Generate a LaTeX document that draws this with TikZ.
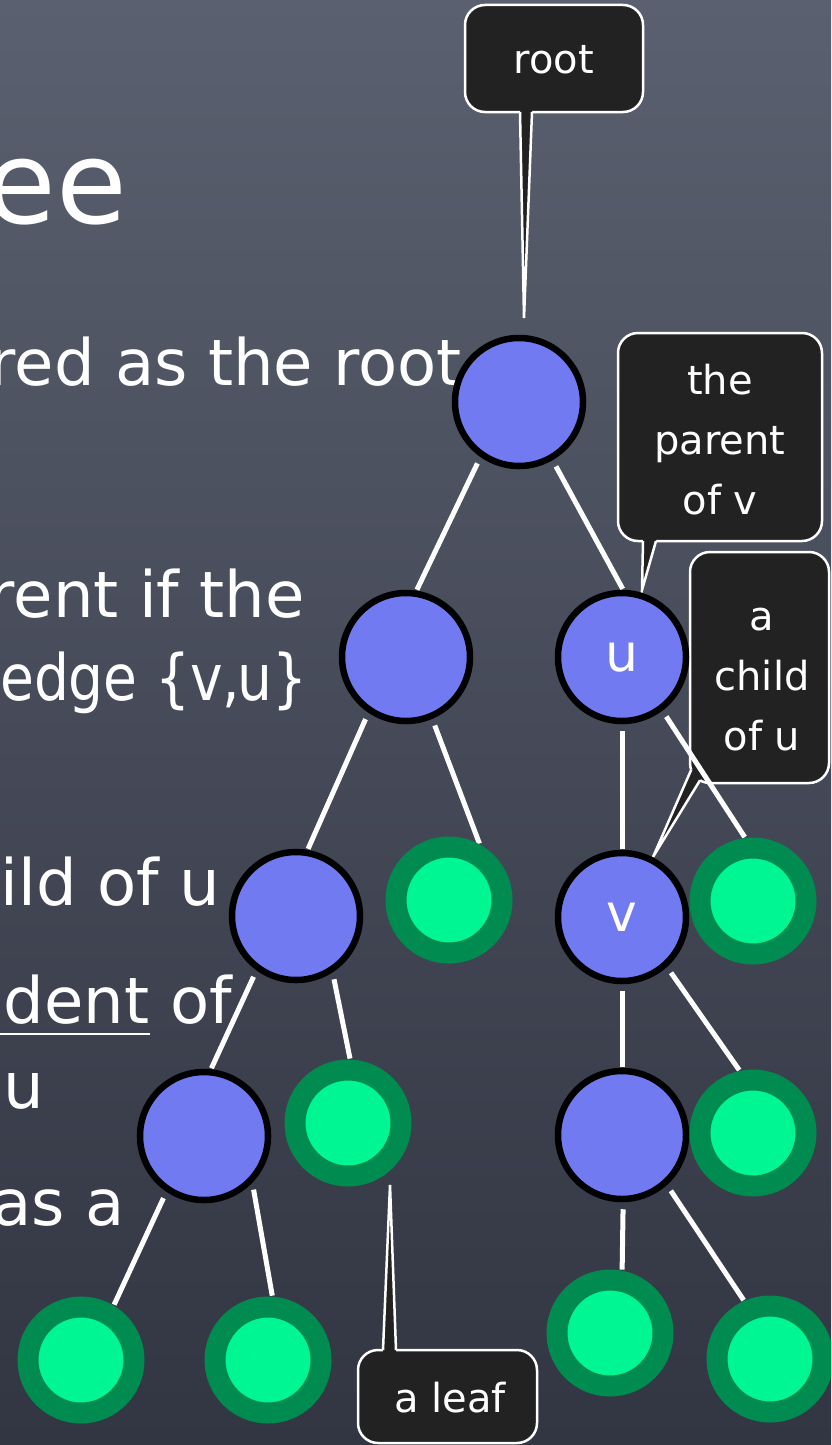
\documentclass[tikz,border=0pt]{standalone}
\usepackage{graphicx}
\usepackage{fontspec}
\setmainfont{DejaVu Sans}
\usetikzlibrary{calc}
\definecolor{bgtop}{RGB}{90,96,111}
\definecolor{bgmid}{RGB}{72,77,91}
\definecolor{bgbot}{RGB}{50,53,66}
\definecolor{vtx}{RGB}{114,122,242}
\definecolor{leafring}{RGB}{0,140,80}
\definecolor{leafcore}{RGB}{0,246,146}
\definecolor{calloutbg}{RGB}{34,34,34}
\pgfdeclarelayer{back}
\pgfdeclarelayer{mid}
\pgfsetlayers{back,mid,main}
\begin{document}
\begin{tikzpicture}[x=1pt,y=-1pt,
  vertex/.style={circle,draw=black,line width=6.5pt,fill=vtx,minimum size=128pt,
    inner sep=0pt,text=white,font=\fontsize{52}{52}\selectfont},
  leaf/.style={circle,draw=leafring,line width=21pt,fill=leafcore,
    minimum size=106pt,inner sep=0pt},
  edge/.style={white,line width=5pt,shorten <=7pt,shorten >=1pt},
  bubble/.style={fill=calloutbg,draw=white,line width=2.5pt,rounded corners=20pt},
  tailfill/.style={fill=calloutbg},
  tailline/.style={draw=white,line width=2.5pt,line join=miter},
  bubbletext/.style={text=white,font=\fontsize{40}{60}\selectfont,align=center,inner sep=0pt},
  slide/.style={text=white,font=\fontsize{64}{64}\selectfont,anchor=base east,inner sep=0pt}]

\useasboundingbox (0,0) rectangle (831,1445);
\clip (0,0) rectangle (831,1445);

% ---------------- tree vertices ----------------
\node[vertex] (root) at (519,402) {};
\node[vertex] (p)    at (406,657) {};
\node[vertex] (u)    at (622,657) {u};
\node[vertex] (a)    at (296,916) {};
\node[leaf]   (l1)   at (449,900) {};
\node[vertex] (v)    at (622,917) {v};
\node[leaf]   (l2)   at (753,901) {};
\node[vertex] (b)    at (204,1136) {};
\node[leaf]   (l3)   at (348,1123) {};
\node[vertex] (c)    at (622,1135) {};
\node[leaf]   (l4)   at (753,1133) {};
\node[leaf]   (l5)   at (81,1360) {};
\node[leaf]   (l6)   at (268,1360) {};
\node[leaf]   (l7)   at (610,1333) {};
\node[leaf]   (l8)   at (770,1359) {};

% ---------------- edges ----------------
\begin{pgfonlayer}{mid}
\draw[edge] (root.-125) -- (p.81);
\draw[edge] (root.-60) -- (u.89);
\draw[edge] (p.-124) -- (a.80);
\draw[edge] (p.-67) -- (l1.61);
\draw[edge] (u.-90) -- (v.90);
\draw[edge] (u.-53) -- (l2.97);
\draw[edge] (v.-90) -- (c.90);
\draw[edge] (v.-48) -- (l4.102);
\draw[edge] (a.-126) -- (b.84);
\draw[edge] (a.-57) -- (l3.88);
\draw[edge] (b.-124) -- (l5.59);
\draw[edge] (b.-44) -- (l6.86);
\draw[edge] (c.-89) -- (l7.79);
\draw[edge] (c.-48) -- (l8.114);
\end{pgfonlayer}

\begin{pgfonlayer}{back}
% chalkboard background
\shade[top color=bgtop,middle color=bgmid,bottom color=bgbot] (0,0) rectangle (831,1445);

% slide text, cut at the left edge
\node[slide,font=\fontsize{115}{115}\selectfont] (ln1) at (127,223) {ee};
\node[slide] (ln2) at (462,385) {red as the root};
\node[slide] (ln3) at (305,617) {rent if the};
\node[slide,anchor=base west] (ln4) at (0,700)
  {\scalebox{0.86}[1]{edge \{v,\kern-0.05em u\}}};
\node[slide] (ln5) at (220,905) {ild of u};
\node[slide] (ln6b) at (232,1023) {of};
\node[slide] (ln6a) at ($(ln6b.base west)+(-20.4,0)$) {ndent};
\draw[white,line width=1.5pt] ($(ln6a.base west)+(0,11)$) -- ($(ln6a.base east)+(0,11)$);
\node[slide,anchor=base west] (ln7) at (3,1108) {u};
\node[slide] (ln8) at (125,1225) {as a};

% callout: root
\coordinate (tipRoot) at (524,318);
\draw[bubble] (465,5) rectangle (643,112);
\fill[tailfill] (520,108) -- (520,112) -- (tipRoot) -- (532,112) -- (532,108) -- cycle;
\draw[tailline] (520,112) -- (tipRoot) -- (532,112);
\node[bubbletext] (rootlbl) at (554,60) {root};

% callout: the parent of v
\coordinate (tipPar) at (642,590);
\draw[bubble] (618,333) rectangle (822,541);
\fill[tailfill] (643,537) -- (643,541) -- (tipPar) -- (656,541) -- (656,537) -- cycle;
\draw[tailline] (643,541) -- (tipPar) -- (656,541);
\node[bubbletext] (parlbl) at (720,440) {the\\parent\\of v};

% callout: a child of u
\coordinate (tipChild) at (653,857);
\draw[bubble] (690,552) rectangle (829,783);
\fill[tailfill] (697,768) -- (691.2,769.8) -- (tipChild) -- (700,780.3) -- (703,775) -- cycle;
\draw[tailline] (691.2,769.8) -- (tipChild) -- (700,780.3);
\node[bubbletext] (chlbl) at (762,680) {a\\child\\ of u};

% callout: a leaf
\coordinate (tipLeaf) at (390,1185);
\draw[bubble] (358,1350) rectangle (537,1443);
\fill[tailfill] (383,1354) -- (383,1350) -- (tipLeaf) -- (396,1350) -- (396,1354) -- cycle;
\draw[tailline] (383,1350) -- (tipLeaf) -- (396,1350);
\node[bubbletext] (leaflbl) at (450,1398) {a leaf};
\end{pgfonlayer}
\end{tikzpicture}
\end{document}
